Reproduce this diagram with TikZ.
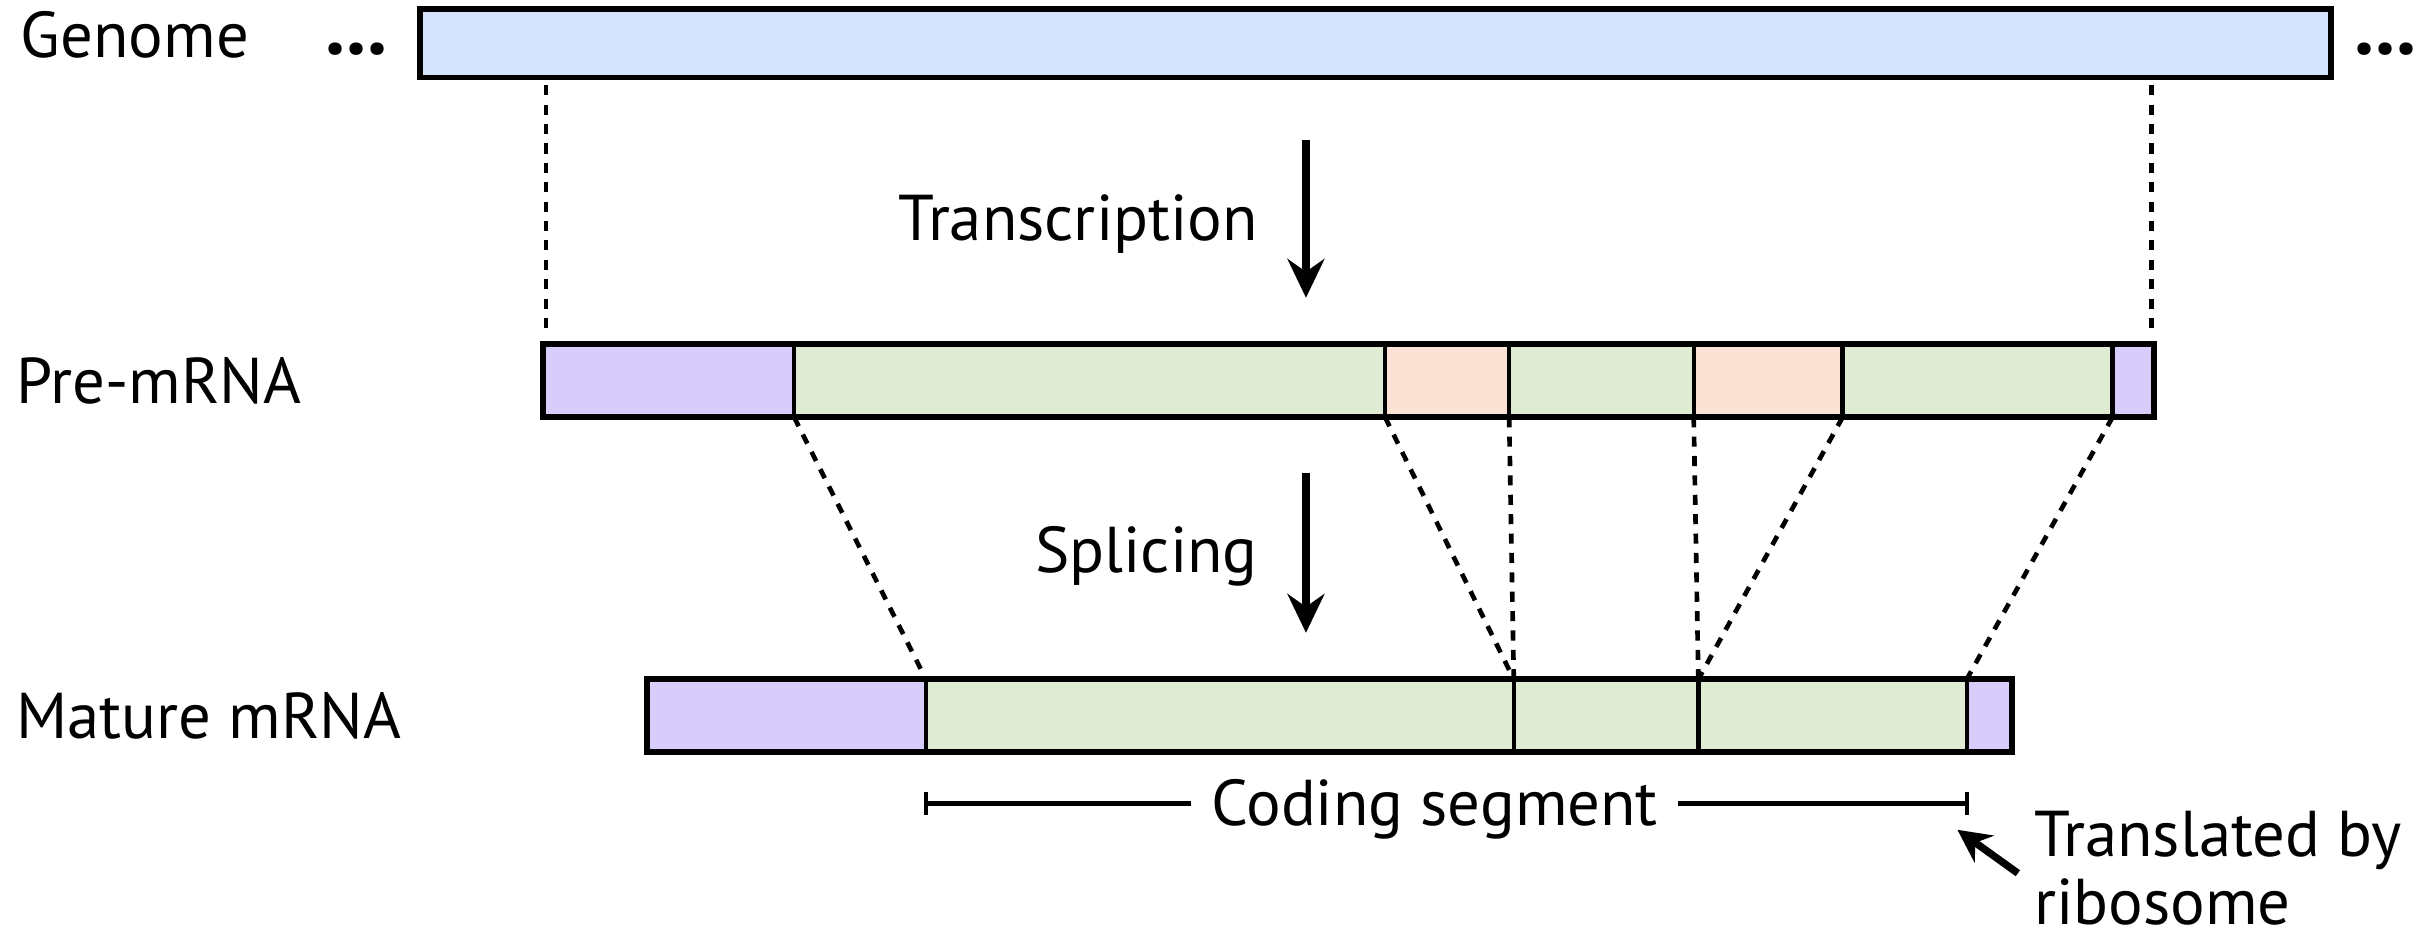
\documentclass[tikz,border=0pt]{standalone}
\usepackage{fontspec}
\setmainfont{PT Sans}
\usetikzlibrary{arrows.meta}
\definecolor{gblue}{RGB}{213,227,252}
\definecolor{purp}{RGB}{216,204,250}
\definecolor{grn}{RGB}{224,235,212}
\definecolor{pch}{RGB}{252,225,213}
\newcommand\segm[5]{\node[seg, fill=#5, minimum width={(#3-#2)*0.4pt}] (#1) at (#2,#4) {};}
\begin{document}
\begin{tikzpicture}[x=0.4pt,y=-0.4pt,
  seg/.style={draw, line width=1.1pt, inner sep=0pt, outer sep=0pt, anchor=north west, minimum height=18.8pt},
  frame/.style={draw, line width=1.5pt},
  lbl/.style={font=\fontsize{16.7}{20}\selectfont, inner sep=0pt, anchor=base west},
  dots/.style={font=\fontsize{21}{24}\selectfont\bfseries, inner sep=0pt, anchor=base},
  link/.style={dash pattern=on 2.6pt off 2.4pt, line width=1.2pt},
  bigarrow/.style={-{Stealth[length=10pt,width=9.5pt,inset=3.3pt]}, line width=1.9pt},
  smallarrow/.style={-{Stealth[length=8.5pt,width=8.5pt,inset=2.8pt]}, line width=1.9pt},
  bracket/.style={line width=1.1pt}
]
\useasboundingbox (0,0) rectangle (1568,605);
% Genome
\node[seg, frame, fill=gblue, minimum width={1232*0.4pt}, minimum height=17.6pt] (genome) at (271,6) {};
\node[lbl] (lgen) at (13,37) {Genome};
\node[dots] (dotl) at (230,35) {...};
\node[dots] (dotr) at (1538,35) {...};
% Pre-mRNA
\segm{p1}{350}{512}{222}{purp}
\segm{p2}{512}{893}{222}{grn}
\segm{p3}{893}{973}{222}{pch}
\segm{p4}{973}{1092}{222}{grn}
\segm{p5}{1092}{1188}{222}{pch}
\segm{p6}{1188}{1362}{222}{grn}
\segm{p7}{1362}{1389}{222}{purp}
\draw[frame] (p1.north west) rectangle (p7.south east);
\node[lbl] (lpre) at (10,260) {Pre-mRNA};
% Mature mRNA
\segm{m1}{417}{597}{438}{purp}
\segm{m2}{597}{976}{438}{grn}
\segm{m3}{976}{1095}{438}{grn}
\segm{m4}{1095}{1268}{438}{grn}
\segm{m5}{1268}{1297}{438}{purp}
\draw[frame] (m1.north west) rectangle (m5.south east);
\node[lbl] (lmat) at (10,476) {Mature mRNA};
% genome to pre-mRNA
\draw[link] ([xshift=0.8pt,yshift=-2pt]genome.south -| p1.west) -- ([xshift=0.8pt,yshift=3pt]p1.north west);
\draw[link] ([xshift=-0.8pt,yshift=-2pt]genome.south -| p7.east) -- ([xshift=-0.8pt,yshift=3pt]p7.north east);
% pre-mRNA to mature
\draw[link] (p2.south west) -- (m2.north west);
\draw[link] (p3.south west) -- (m3.north west);
\draw[link] (p4.south west) -- (m3.north west);
\draw[link] (p5.south west) -- (m4.north west);
\draw[link] (p6.south west) -- (m4.north west);
\draw[link] (p7.south west) -- (m5.north west);
% process arrows
\coordinate (ta) at (842,90);
\coordinate (tb) at (842,192);
\draw[bigarrow] (ta) -- (tb);
\node[lbl] (ltr) at (579,155) {Transcription};
\coordinate (sa) at (842,305);
\coordinate (sb) at (842,408);
\draw[bigarrow] (sa) -- (sb);
\node[lbl] (lsp) at (667,369) {Splicing};
% coding segment
\node[lbl, anchor=base] (lcs) at (925,532) {Coding segment};
\coordinate (c1) at (597,518);
\coordinate (c2) at (1268,518);
\draw[bracket] (c1) -- ([xshift=-5pt]lcs.west |- c1);
\draw[bracket] ([xshift=5pt]lcs.east |- c2) -- (c2);
\draw[bracket] ([yshift=3pt]c1) -- ([yshift=-3pt]c1);
\draw[bracket] ([yshift=3pt]c2) -- ([yshift=-3pt]c2);
% ribosome
\node[lbl] (ltl) at (1311,552) {Translated by};
\node[lbl] (lrb) at (1311,596) {ribosome};
\coordinate (ra) at (1301,563);
\coordinate (rb) at (1262,535);
\draw[smallarrow] (ra) -- (rb);
\end{tikzpicture}
\end{document}
